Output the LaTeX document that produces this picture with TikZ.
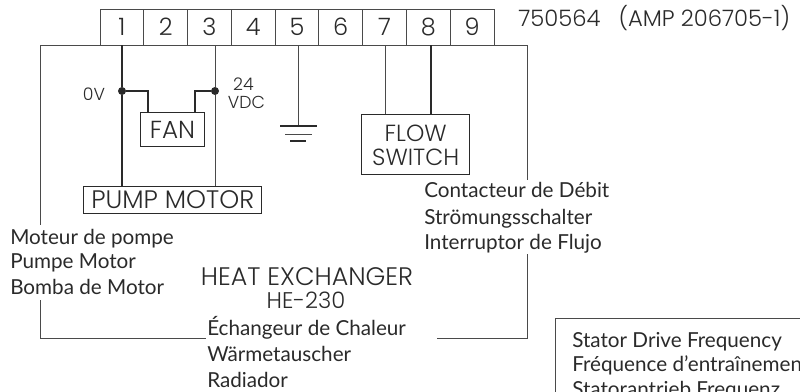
\documentclass[tikz,border=0pt]{standalone}
\usepackage{fontspec}
\setmainfont{Lato}
\newfontfamily\capsfont{Poppins Light}
\definecolor{ink}{HTML}{2A2A2A}
\definecolor{wire}{HTML}{4A4A4A}
\tikzset{
  cellbox/.style={draw=wire,line width=.7pt,minimum width=32.85pt,minimum height=27pt,inner sep=0pt,text=ink,font=\capsfont\fontsize{18}{20}\selectfont},
  partbox/.style={draw=ink,line width=.75pt,inner sep=0pt,align=center,text=ink,font=\capsfont\fontsize{17.5}{18}\selectfont},
  wireline/.style={draw=wire,line width=.7pt},
  heavy/.style={draw=ink,line width=.85pt},
  dotnode/.style={circle,fill=ink,inner sep=0pt,minimum size=6pt},
  label/.style={anchor=base west,inner sep=0pt,text=ink,font=\fontsize{15.5}{17}\selectfont},
  smalllabel/.style={inner sep=0pt,text=ink,font=\capsfont\fontsize{13}{14}\selectfont},
  titlelabel/.style={anchor=base,inner sep=0pt,text=ink,font=\capsfont\fontsize{19}{20}\selectfont}
}
\begin{document}
\begin{tikzpicture}[x=.75pt,y=-.75pt]
\useasboundingbox (0,0) rectangle (800,392);
\clip (0,0) rectangle (800,392);
% connector pins
\foreach \i in {1,...,9}{
  \node[cellbox] (p\i) at ({100+43.78*(\i-.5)},27) {\i};
}
% frame
\coordinate (fa) at (40.5,225);
\coordinate (fb) at (40.5,45.5);
\coordinate (fc) at (527,45.5);
\coordinate (fd) at (527,180);
\coordinate (fe) at (40.5,300);
\coordinate (ff) at (40.5,338);
\coordinate (fg) at (206,338);
\coordinate (fh) at (437,338);
\coordinate (fi) at (527,338);
\coordinate (fj) at (527,254);
\draw[wireline] (fa) -- (fb) -- (fc) -- (fd);
\draw[wireline] (fe) -- (ff) -- (fg);
\draw[wireline] (fh) -- (fi) -- (fj);
% parts
\node[partbox,minimum width=48pt,minimum height=25.9pt,font=\capsfont\fontsize{18.5}{18}\selectfont] (fan) at (172.5,129.7) {FAN};
\node[partbox,minimum width=133.9pt,minimum height=20pt,font=\capsfont\fontsize{19}{18}\selectfont] (pump) at (172.7,200) {PUMP MOTOR};
\node[partbox,minimum width=81.4pt,minimum height=45pt] (flow) at (415.7,145) {FLOW\\SWITCH};
\node[dotnode] (j1) at (122,91) {};
\node[dotnode] (j3) at (215,91) {};
% wires
\coordinate (t1) at (122,45.5);
\coordinate (t3) at (215,45.5);
\coordinate (t5) at (298,45.5);
\coordinate (t7) at (385.5,45.5);
\coordinate (t8) at (431,45.5);
\draw[heavy] (t1) -- (j1);
\draw[heavy] (j1) -- (j1 |- pump.north);
\draw[wireline] (t3) -- (j3) -- (j3 |- pump.north);
\draw[heavy] (j1) -| (148,112.5);
\draw[heavy] (j3) -| (195,112.5);
\draw[wireline] (t7) -- (t7 |- flow.north);
\draw[heavy] (t8) -- (t8 |- flow.north);
% ground
\coordinate (g1a) at (280,126); \coordinate (g1b) at (317,126);
\coordinate (g2a) at (285,134); \coordinate (g2b) at (312,134);
\coordinate (g3a) at (290,141); \coordinate (g3b) at (306,141);
\draw[wireline] (t5) -- (t5 |- g1a);
\draw[heavy] (g1a) -- (g1b);
\draw[wireline] (g2a) -- (g2b);
\draw[heavy] (g3a) -- (g3b);
% texts
\node[smalllabel] (zero) at (94,94) {0V};
\node[smalllabel] (v24) at (243.5,84) {24};
\node[smalllabel] (vdc) at (246.5,102) {VDC};
\node[anchor=base west,inner sep=0pt,text=ink,font=\capsfont\fontsize{17}{20}\selectfont] (part) at (518,27) {750564\hspace{.8em}(AMP 206705-1)};
\node[label] (c1) at (424,198) {Contacteur de Débit};
\node[label] (c2) at (424,224) {Strömungsschalter};
\node[label] (c3) at (424,249) {Interruptor de Flujo};
\node[label] (m1) at (10,244) {Moteur de pompe};
\node[label] (m2) at (10,268) {Pumpe Motor};
\node[label] (m3) at (10,294) {Bomba de Motor};
\node[titlelabel] (h1) at (307,285) {HEAT EXCHANGER};
\node[titlelabel,font=\capsfont\fontsize{17}{20}\selectfont] (h2) at (306,308) {HE-230};
\node[label] (e1) at (207,335) {Échangeur de Chaleur};
\node[label] (e2) at (207,361) {Wärmetauscher};
\node[label] (e3) at (207,387) {Radiador};
% stator box
\coordinate (s1) at (555.5,400);
\coordinate (s2) at (555.5,318.5);
\coordinate (s3) at (810,318.5);
\draw[wireline] (s1) -- (s2) -- (s3);
\node[label] (s4) at (572,347) {Stator Drive Frequency};
\node[label] (s5) at (572,371) {Fréquence d’entraînement};
\node[label] (s6) at (572,396) {Statorantrieb Frequenz};
\end{tikzpicture}
\end{document}
